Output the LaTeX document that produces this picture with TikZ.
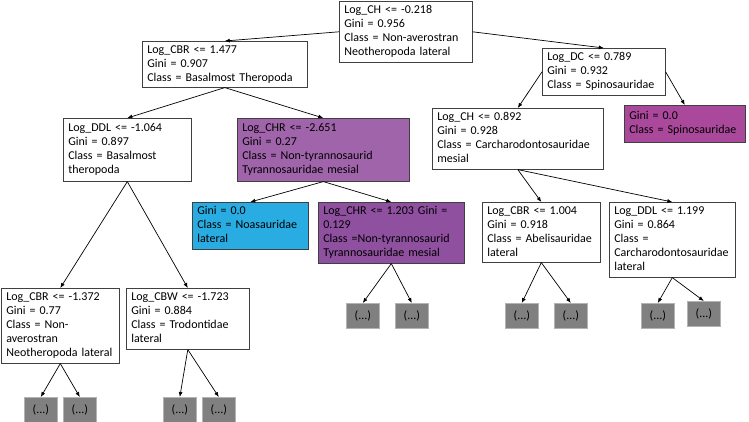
\documentclass[tikz,border=0pt]{standalone}
\usepackage{fontspec}
\setmainfont{Carlito}
\usepackage{xcolor}
\usepackage{tikz}
\usetikzlibrary{arrows}
\usetikzlibrary{arrows.meta}

\definecolor{boxline}{RGB}{64,64,64}
\definecolor{lightpurple}{RGB}{160,100,170}
\definecolor{darkpurple}{RGB}{143,80,160}
\definecolor{spinopurple}{RGB}{170,72,156}
\definecolor{noablue}{RGB}{41,172,226}
\definecolor{leafgray}{RGB}{128,128,128}

% lines of a split box, never wrapped
\newcommand{\rows}[1]{\begin{tabular}{@{}l@{}}#1\end{tabular}}

\begin{document}
\begin{tikzpicture}[
    x=1pt, y=-1pt,
    >={Latex[length=5pt, width=4pt]},
    split/.style={draw=boxline, line width=0.6pt, anchor=north west, align=left,
        inner xsep=5pt, inner ysep=1pt, font=\fontsize{12}{14}\selectfont},
    leaf/.style={fill=leafgray, draw=leafgray!60, line width=0.6pt, anchor=north west,
        minimum width=33pt, minimum height=25pt, inner sep=0pt,
        font=\fontsize{12}{14}\selectfont},
    every path/.append style={line width=0.7pt}
]
\useasboundingbox (0,0) rectangle (749,422);

% Nodes :
\node[split, text width=123pt, minimum height=61pt] (root) at (339,1)
    {\rows{Log\_CH <= -0.218\\Gini = 0.956\\Class = Non-averostran\\Neotheropoda lateral}};

\node[split, text width=155pt, minimum height=46pt] (cbrA) at (142,41)
    {\rows{Log\_CBR <= 1.477\\Gini = 0.907\\Class = Basalmost Theropoda}};
\node[split, text width=113pt, minimum height=47pt] (dcA) at (542,48)
    {\rows{Log\_DC <= 0.789\\Gini = 0.932\\Class = Spinosauridae}};

\node[split, text width=118pt, minimum height=63pt] (ddlA) at (63,118)
    {\rows{Log\_DDL <= -1.064\\Gini = 0.897\\Class = Basalmost\\theropoda}};
\node[split, fill=lightpurple, text width=162pt, minimum height=63pt] (chrA) at (237,118)
    {\rows{Log\_CHR <= -2.651\\Gini = 0.27\\Class = Non-tyrannosaurid\\Tyrannosauridae mesial}};
\node[split, text width=161pt, minimum height=61pt] (chB) at (432,108)
    {\rows{Log\_CH <= 0.892\\Gini = 0.928\\Class = Carcharodontosauridae\\mesial}};
\node[split, fill=spinopurple, text width=111pt, minimum height=37pt] (spino) at (624,105)
    {\rows{Gini = 0.0\\Class = Spinosauridae}};

\node[split, fill=noablue, text width=106pt, minimum height=47pt] (noa) at (192,202)
    {\rows{Gini = 0.0\\Class = Noasauridae\\lateral}};
\node[split, fill=darkpurple, text width=136pt, minimum height=61pt] (chrB) at (318,202)
    {\rows{Log\_CHR <= 1.203 Gini =\\0.129\\Class =Non-tyrannosaurid\\Tyrannosauridae mesial}};
\node[split, text width=108pt, minimum height=60pt] (cbrC) at (482,202)
    {\rows{Log\_CBR <= 1.004\\Gini = 0.918\\Class = Abelisauridae\\lateral}};
\node[split, text width=116pt, minimum height=75pt] (ddlB) at (609,202)
    {\rows{Log\_DDL <= 1.199\\Gini = 0.864\\Class =\\Carcharodontosauridae\\lateral}};

\node[split, text width=108pt, minimum height=75pt] (cbrB) at (1,288)
    {\rows{Log\_CBR <= -1.372\\Gini = 0.77\\Class = Non-\\averostran\\Neotheropoda lateral}};
\node[split, text width=113pt, minimum height=61pt] (cbw) at (126,288)
    {\rows{Log\_CBW <= -1.723\\Gini = 0.884\\Class = Trodontidae\\lateral}};

% Leaves :
\node[leaf] (lA) at (24,397) {(...)};
\node[leaf] (lB) at (63,397) {(...)};
\node[leaf] (lC) at (163,397) {(...)};
\node[leaf] (lD) at (202,397) {(...)};
\node[leaf] (lE) at (346,303) {(...)};
\node[leaf] (lF) at (395,303) {(...)};
\node[leaf] (lG) at (505,303) {(...)};
\node[leaf] (lH) at (554,303) {(...)};
\node[leaf] (lI) at (641,303) {(...)};
\node[leaf] (lJ) at (687,301) {(...)};

% Edges :
\draw[->] (root.west) -- (cbrA.north);
\draw[->] (root.east) -- (dcA.north);

\draw[->] (cbrA.south) -- (ddlA.north);
\draw[->] (cbrA.south) -- (chrA.north);
\draw[->] (dcA.west) -- (chB.north);
\draw[->] (dcA.east) -- (spino.north);

\draw[->] (chrA.south) -- (noa.north);
\draw[->] (chrA.south) -- (chrB.north);
\draw[->] (chB.south) -- (cbrC.north);
\draw[->] (chB.south) -- (ddlB.north);
\draw[->] (ddlA.south) -- (cbrB.north);
\draw[->] (ddlA.south) -- (cbw.north);

\draw[->] (cbrB.south) -- (lA.north);
\draw[->] (cbrB.south) -- (lB.north);
\draw[->] (cbw.south) -- (lC.north);
\draw[->] (cbw.south) -- (lD.north);
\draw[->] (chrB.south) -- (lE.north);
\draw[->] (chrB.south) -- (lF.north);
\draw[->] (cbrC.south) -- (lG.north);
\draw[->] (cbrC.south) -- (lH.north);
\draw[->] (ddlB.south) -- (lI.north);
\draw[->] (ddlB.south) -- (lJ.north);

\end{tikzpicture}
\end{document}
